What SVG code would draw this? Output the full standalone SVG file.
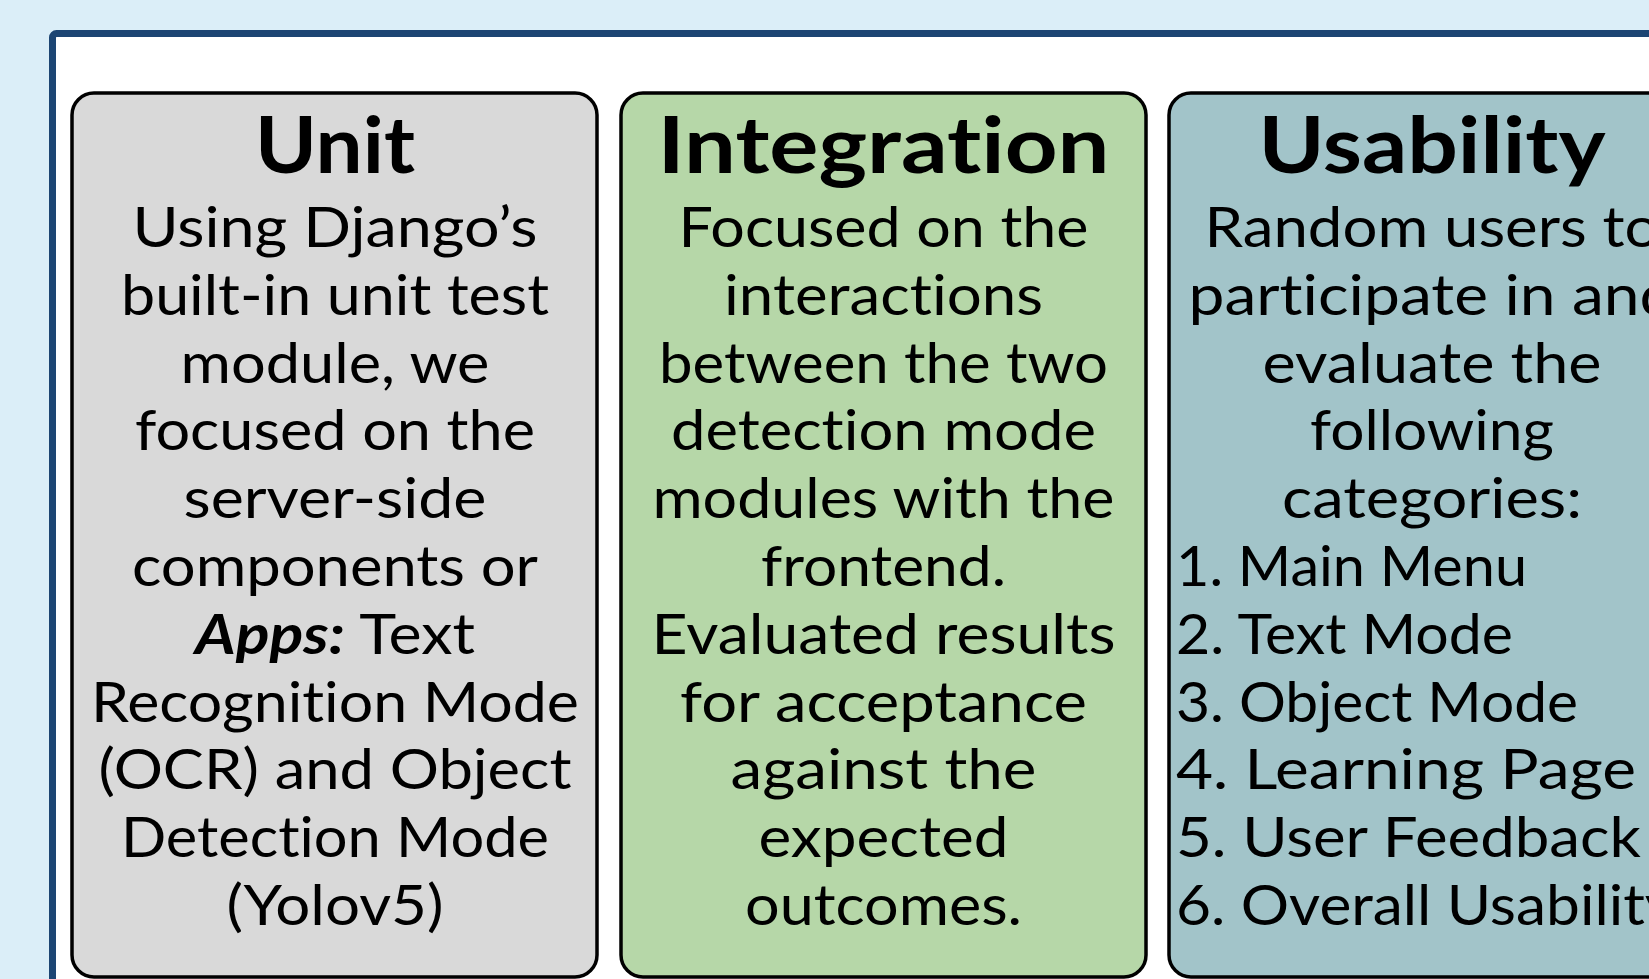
<svg xmlns="http://www.w3.org/2000/svg" width="1649" height="979" viewBox="0 0 1649 979">
<style>
.box{stroke:#000;stroke-width:3.5}
text{font-variant-ligatures:none;font-feature-settings:"liga" 0,"clig" 0}
.t{font-family:Lato,"Open Sans","Liberation Sans",sans-serif;font-weight:700;font-size:78px;fill:#000;text-anchor:middle}
.b{font-family:Lato,"Open Sans","Liberation Sans",sans-serif;font-size:56px;fill:#000;text-anchor:middle}
.l{font-family:Lato,"Open Sans","Liberation Sans",sans-serif;font-size:56px;fill:#000}
</style>
<rect x="0" y="0" width="1649" height="979" fill="#dbeef8"/>
<rect id="frame" x="52.5" y="33.5" width="1700" height="1000" rx="4" fill="#fff" stroke="#1c4573" stroke-width="7"/>
<g id="connectors"></g>
<g id="unit">
<rect class="box" x="72" y="93" width="525" height="884" rx="22" fill="#d9d9d9"/>
<text class="t" x="335" y="173" textLength="160" lengthAdjust="spacingAndGlyphs">Unit</text>
<text class="b" x="335" y="247" textLength="405" lengthAdjust="spacingAndGlyphs">Using Django’s</text>
<text class="b" x="335" y="315" textLength="428" lengthAdjust="spacingAndGlyphs">built-in unit test</text>
<text class="b" x="335" y="383" textLength="309" lengthAdjust="spacingAndGlyphs">module, we</text>
<text class="b" x="335" y="450" textLength="400" lengthAdjust="spacingAndGlyphs">focused on the</text>
<text class="b" x="335" y="518" textLength="303" lengthAdjust="spacingAndGlyphs">server-side</text>
<text class="b" x="335" y="586" textLength="406" lengthAdjust="spacingAndGlyphs">components or</text>
<text class="b" x="335" y="654" textLength="280" lengthAdjust="spacingAndGlyphs"><tspan font-weight="700" font-style="italic">Apps:</tspan> Text</text>
<text class="b" x="335" y="722" textLength="488" lengthAdjust="spacingAndGlyphs">Recognition Mode</text>
<text class="b" x="335" y="789" textLength="473" lengthAdjust="spacingAndGlyphs">(OCR) and Object</text>
<text class="b" x="335" y="857" textLength="428" lengthAdjust="spacingAndGlyphs">Detection Mode</text>
<text class="b" x="335" y="925" textLength="217" lengthAdjust="spacingAndGlyphs">(Yolov5)</text>
</g>
<g id="integration">
<rect class="box" x="621" y="93" width="525" height="884" rx="22" fill="#b6d7a8"/>
<text class="t" x="883.5" y="173" textLength="452" lengthAdjust="spacingAndGlyphs">Integration</text>
<text class="b" x="883.5" y="247" textLength="410" lengthAdjust="spacingAndGlyphs">Focused on the</text>
<text class="b" x="883.5" y="315" textLength="319" lengthAdjust="spacingAndGlyphs">interactions</text>
<text class="b" x="883.5" y="383" textLength="449" lengthAdjust="spacingAndGlyphs">between the two</text>
<text class="b" x="883.5" y="450" textLength="425" lengthAdjust="spacingAndGlyphs">detection mode</text>
<text class="b" x="883.5" y="518" textLength="462" lengthAdjust="spacingAndGlyphs">modules with the</text>
<text class="b" x="883.5" y="586" textLength="245" lengthAdjust="spacingAndGlyphs">frontend.</text>
<text class="b" x="883.5" y="654" textLength="464" lengthAdjust="spacingAndGlyphs">Evaluated results</text>
<text class="b" x="883.5" y="722" textLength="407" lengthAdjust="spacingAndGlyphs">for acceptance</text>
<text class="b" x="883.5" y="789" textLength="306" lengthAdjust="spacingAndGlyphs">against the</text>
<text class="b" x="883.5" y="857" textLength="250" lengthAdjust="spacingAndGlyphs">expected</text>
<text class="b" x="883.5" y="925" textLength="277" lengthAdjust="spacingAndGlyphs">outcomes.</text>
</g>
<g id="usability">
<rect class="box" x="1169" y="93" width="525" height="884" rx="22" fill="#a2c4c9"/>
<text class="t" x="1432" y="173" textLength="347" lengthAdjust="spacingAndGlyphs">Usability</text>
<text class="b" x="1432" y="247" textLength="455" lengthAdjust="spacingAndGlyphs">Random users to</text>
<text class="b" x="1432" y="315" textLength="487" lengthAdjust="spacingAndGlyphs">participate in and</text>
<text class="b" x="1432" y="383" textLength="339" lengthAdjust="spacingAndGlyphs">evaluate the</text>
<text class="b" x="1432" y="450" textLength="244" lengthAdjust="spacingAndGlyphs">following</text>
<text class="b" x="1432" y="518" textLength="300" lengthAdjust="spacingAndGlyphs">categories:</text>
<text class="l" x="1176" y="586" textLength="351" lengthAdjust="spacingAndGlyphs">1. Main Menu</text>
<text class="l" x="1176" y="654" textLength="337" lengthAdjust="spacingAndGlyphs">2. Text Mode</text>
<text class="l" x="1176" y="722" textLength="402" lengthAdjust="spacingAndGlyphs">3. Object Mode</text>
<text class="l" x="1176" y="789" textLength="460" lengthAdjust="spacingAndGlyphs">4. Learning Page</text>
<text class="l" x="1176" y="857" textLength="465" lengthAdjust="spacingAndGlyphs">5. User Feedback</text>
<text class="l" x="1176" y="925" textLength="500" lengthAdjust="spacingAndGlyphs">6. Overall Usability</text>
</g>
</svg>
